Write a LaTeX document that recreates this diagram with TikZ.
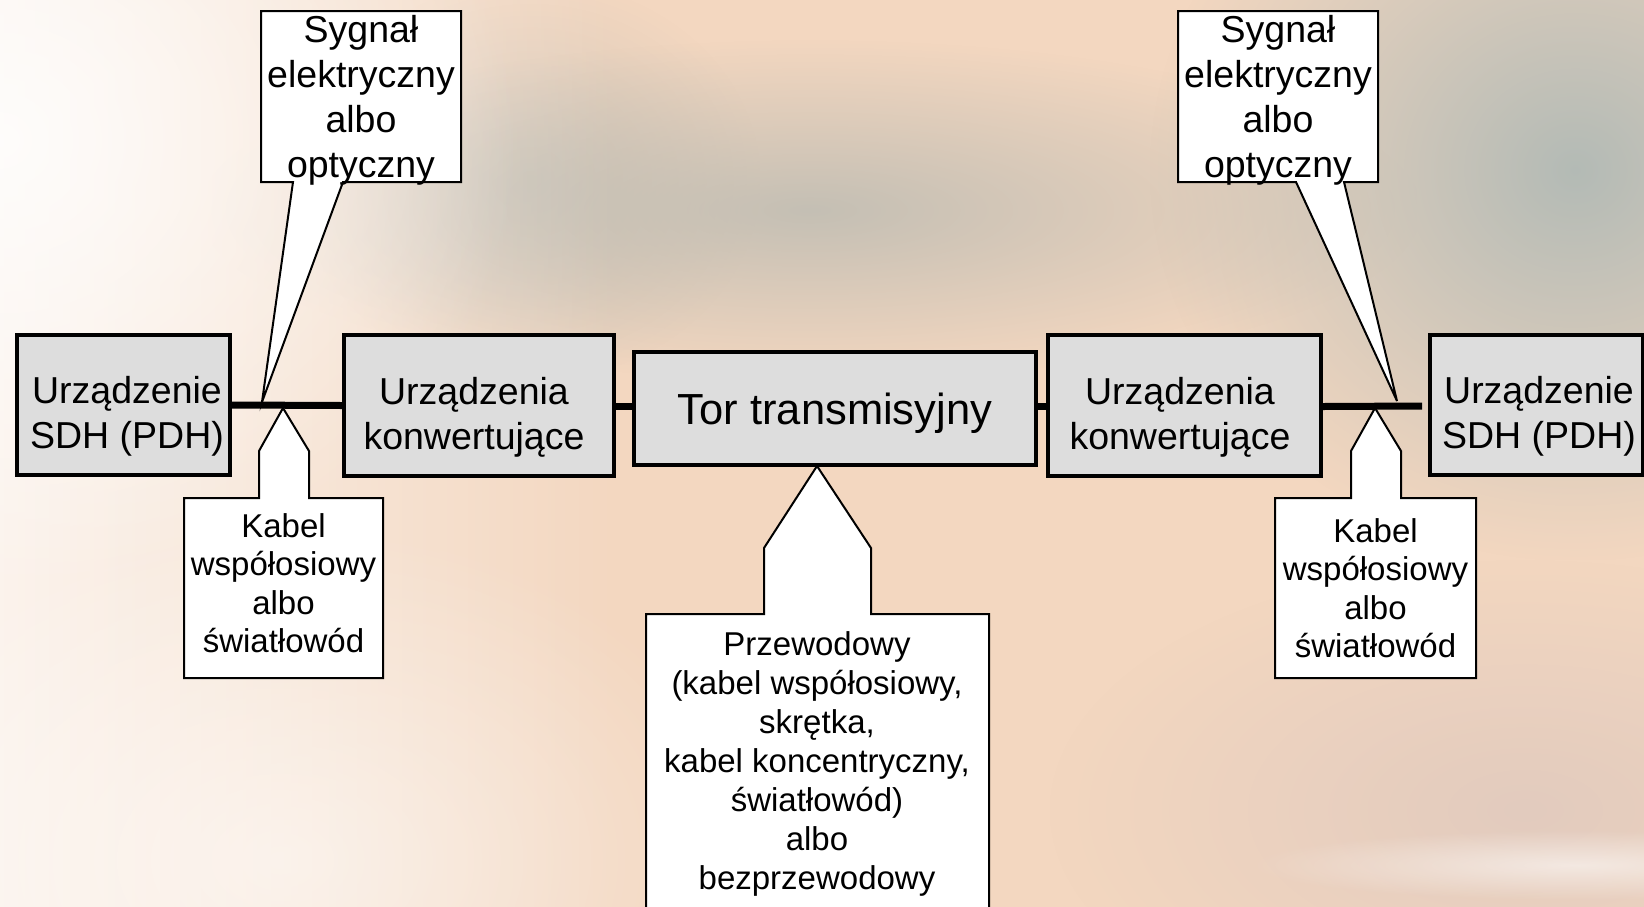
\documentclass[tikz,border=0pt]{standalone}
\usepackage{fontspec}
\setmainfont{Liberation Sans}
\usetikzlibrary{fadings}

% soft blobs and washes for the cloudy backdrop
\tikzfading[name=blob, inner color=transparent!0, outer color=transparent!100]
\tikzfading[name=toeast, left color=transparent!0, right color=transparent!100]

\definecolor{bgpeach}{RGB}{243,215,192}
\definecolor{cloudgray}{RGB}{188,187,178}
\definecolor{skyslate}{RGB}{176,185,181}
\definecolor{duskrose}{RGB}{222,200,190}
\definecolor{boxgray}{RGB}{221,221,221}

% centred lines with a fixed line pitch, baseline at the first line
\newcommand{\stack}[1]{\begin{tabular}[t]{@{}c@{}}#1\end{tabular}}

\tikzset{
  unit/.style={draw=black, line width=4pt, fill=boxgray, inner sep=0pt},
  wire/.style={line width=7pt},
  callout/.style={draw=black, line width=2pt, fill=white},
  bigtxt/.style={anchor=base, inner sep=0pt, font=\fontsize{37.5}{45}\selectfont},
  tortxt/.style={anchor=base, inner sep=0pt, font=\fontsize{43.5}{50}\selectfont},
  smalltxt/.style={anchor=base, inner sep=0pt, font=\fontsize{33}{38.5}\selectfont},
  midtxt/.style={anchor=base, inner sep=0pt, font=\fontsize{33}{39}\selectfont},
}

\begin{document}
\begin{tikzpicture}[x=1pt, y=-1pt]
\useasboundingbox (0,0) rectangle (1644,906);
\clip (-2,-2) rectangle (1646,908);

% ---- backdrop ----
\fill[bgpeach] (-2,-2) rectangle (1646,908);
\fill[cloudgray, fill opacity=0.6, path fading=blob] (300,-20) rectangle (760,380);
\fill[cloudgray, fill opacity=0.85, path fading=blob] (200,40) rectangle (1420,380);
\fill[skyslate, fill opacity=0.95, path fading=blob] (1150,-220) rectangle (2000,560);
\fill[duskrose, fill opacity=0.8, path fading=blob] (1050,560) rectangle (2000,1060);
\fill[white, fill opacity=0.55, path fading=blob] (1250,830) rectangle (1900,900);
\fill[white, path fading=toeast] (-260,-2) rectangle (620,908);
\fill[white, fill opacity=0.8, path fading=blob] (-520,-320) rectangle (520,600);
\fill[white, fill opacity=0.5, path fading=blob] (-200,520) rectangle (760,1200);

% ---- equipment chain ----
\node[unit, minimum width=213pt, minimum height=140pt] (sdhL)  at (123.5,405) {};
\node[unit, minimum width=270pt, minimum height=141pt] (convL) at (479,405.5) {};
\node[unit, minimum width=402pt, minimum height=113pt] (tor)   at (835,408.5) {};
\node[unit, minimum width=273pt, minimum height=141pt] (convR) at (1184.5,405.5) {};
\node[unit, minimum width=213pt, minimum height=140pt] (sdhR)  at (1536.5,405) {};

\draw[wire] (sdhL.east) -- (convL.west);
\draw[wire] ([yshift=-1pt]convL.east) -- ([yshift=-1pt]convL.east -| tor.west);
\draw[wire] ([yshift=-1pt]convR.west -| tor.east) -- ([yshift=-1pt]convR.west);
\draw[wire] ([yshift=-1pt]convR.east) -- ([xshift=-6pt,yshift=-1pt]sdhR.west);

\node[bigtxt] (tSdhL)  at (127,403)   {\stack{Urządzenie\\SDH (PDH)}};
\node[bigtxt] (tConvL) at (474,404)   {\stack{Urządzenia\\konwertujące}};
\node[tortxt] (tTor)   at (835,424)   {Tor transmisyjny};
\node[bigtxt] (tConvR) at (1180,404)  {\stack{Urządzenia\\konwertujące}};
\node[bigtxt] (tSdhR)  at (1539,403)  {\stack{Urządzenie\\SDH (PDH)}};

% ---- callout tips ----
\coordinate (tipSigL) at (262,402);
\coordinate (tipSigR) at (1397,401);
\coordinate (tipCabL) at (283,408);
\coordinate (tipCabR) at (1375,408);
\coordinate (tipMed)  at (817,466);

% signal callouts above the chain
\draw[callout] (261,11) -- (461,11) -- (461,182) -- (343,182) -- (tipSigL)
  -- (293,182) -- (261,182) -- cycle;
\draw[callout] (1178,11) -- (1378,11) -- (1378,182) -- (1344,182) -- (tipSigR)
  -- (1296,182) -- (1178,182) -- cycle;

% cable callouts below the chain
\draw[callout] (184,498) -- (259,498) -- (259,451) -- (tipCabL) -- (309,451)
  -- (309,498) -- (383,498) -- (383,678) -- (184,678) -- cycle;
\draw[callout] (1275,498) -- (1351,498) -- (1351,451) -- (tipCabR) -- (1401,451)
  -- (1401,498) -- (1476,498) -- (1476,678) -- (1275,678) -- cycle;

% medium callout under the transmission path
\draw[callout] (646,614) -- (764,614) -- (764,548) -- (tipMed) -- (871,548)
  -- (871,614) -- (989,614) -- (989,960) -- (646,960) -- cycle;

\node[bigtxt] (tSigL) at (361,42) {\stack{Sygnał\\elektryczny\\albo\\optyczny}};
\node[bigtxt] (tSigR) at (1278,42) {\stack{Sygnał\\elektryczny\\albo\\optyczny}};
\node[smalltxt] (tCabL) at (283.5,537) {\stack{Kabel\\współosiowy\\albo\\światłowód}};
\node[smalltxt] (tCabR) at (1375.5,542) {\stack{Kabel\\współosiowy\\albo\\światłowód}};
\node[midtxt] (tMed) at (817,655) {\stack{Przewodowy\\(kabel współosiowy,\\skrętka,\\kabel koncentryczny,\\światłowód)\\albo\\bezprzewodowy}};
\end{tikzpicture}
\end{document}
